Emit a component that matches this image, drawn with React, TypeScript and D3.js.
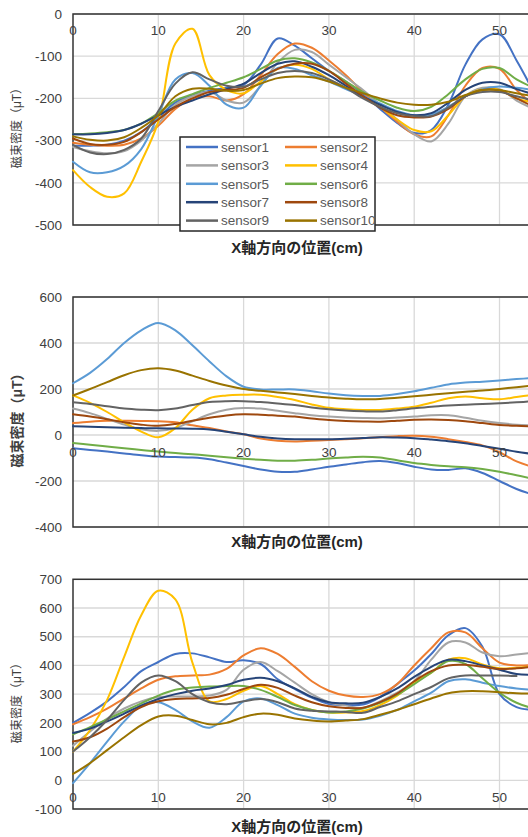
import React from 'react';
import * as d3 from 'd3';

// x positions (cm)
const positions = [0, 2, 4, 6, 8, 10, 12, 14, 16, 18, 20, 22, 24, 26, 28, 30, 32, 34, 36, 38, 40, 42, 44, 46, 48, 50, 52, 54];
const sensorNames = ['sensor1', 'sensor2', 'sensor3', 'sensor4', 'sensor5', 'sensor6', 'sensor7', 'sensor8', 'sensor9', 'sensor10'];
const sensorColors = ['#4472C4', '#ED7D31', '#A5A5A5', '#FFC000', '#5B9BD5', '#70AD47', '#264478', '#9E480E', '#636363', '#997300'];
const xTicks = [0, 10, 20, 30, 40, 50, 60];
const xTickLabels = [0, 10, 20, 30, 40, 50];

// Panel 1
const p1s1 = [-312, -312, -310, -300, -280, -245, -210, -192, -182, -175, -168, -120, -58, -75, -105, -135, -160, -190, -225, -258, -282, -275, -215, -120, -60, -48, -110, -185];
const p1s2 = [-305, -310, -312, -310, -295, -265, -225, -200, -195, -205, -190, -145, -95, -70, -80, -110, -145, -185, -220, -255, -285, -290, -240, -170, -128, -130, -180, -215];
const p1s3 = [-315, -325, -330, -325, -300, -260, -215, -195, -185, -205, -210, -170, -115, -85, -90, -120, -150, -180, -215, -250, -285, -302, -260, -195, -175, -178, -205, -225];
const p1s4 = [-370, -410, -433, -425, -350, -255, -70, -35, -145, -180, -188, -160, -130, -120, -130, -155, -175, -195, -220, -250, -275, -278, -240, -195, -178, -180, -200, -210];
const p1s5 = [-350, -375, -375, -360, -320, -240, -155, -140, -170, -215, -222, -170, -128, -130, -145, -160, -178, -195, -212, -230, -240, -238, -220, -195, -178, -172, -175, -180];
const p1s6 = [-285, -283, -280, -275, -260, -235, -205, -190, -175, -163, -150, -130, -110, -105, -115, -135, -160, -185, -205, -222, -230, -220, -190, -155, -130, -128, -155, -175];
const p1s7 = [-285, -285, -282, -275, -260, -240, -220, -205, -190, -178, -165, -140, -118, -112, -125, -145, -170, -195, -215, -232, -240, -235, -210, -180, -163, -163, -178, -190];
const p1s8 = [-295, -308, -310, -303, -280, -250, -220, -200, -185, -180, -175, -150, -130, -118, -118, -135, -165, -195, -222, -240, -245, -243, -225, -195, -180, -182, -200, -220];
const p1s9 = [-310, -328, -332, -322, -295, -230, -165, -138, -155, -170, -172, -155, -140, -135, -140, -155, -175, -200, -220, -235, -242, -242, -222, -195, -185, -185, -195, -205];
const p1s10 = [-290, -298, -300, -292, -270, -240, -195, -177, -177, -182, -180, -165, -152, -148, -150, -160, -175, -188, -200, -210, -215, -215, -208, -192, -180, -180, -188, -195];

// Panel 2
const p2s1 = [-58, -65, -72, -80, -88, -94, -96, -98, -105, -120, -135, -150, -160, -160, -150, -138, -128, -118, -113, -122, -138, -150, -152, -145, -165, -200, -235, -260];
const p2s2 = [52, 58, 62, 62, 61, 60, 55, 42, 30, 15, 3, -15, -25, -28, -25, -22, -18, -14, -10, -5, -3, -8, -18, -30, -45, -75, -115, -140];
const p2s3 = [115, 95, 70, 45, 25, 18, 30, 60, 90, 110, 117, 115, 105, 95, 86, 80, 76, 74, 73, 76, 80, 86, 86, 75, 62, 52, 45, 42];
const p2s4 = [172, 140, 100, 55, 15, -10, 30, 110, 160, 172, 175, 175, 165, 152, 133, 118, 112, 109, 109, 115, 123, 140, 160, 167, 160, 155, 165, 175];
const p2s5 = [225, 270, 330, 400, 455, 487, 455, 390, 320, 255, 210, 198, 198, 198, 190, 180, 173, 170, 170, 178, 190, 205, 220, 228, 232, 237, 243, 248];
const p2s6 = [-35, -42, -50, -58, -65, -72, -78, -84, -90, -97, -103, -108, -112, -112, -108, -102, -98, -95, -98, -110, -122, -130, -136, -140, -148, -160, -175, -192];
const p2s7 = [38, 36, 34, 32, 30, 29, 28, 27, 24, 14, 3, -8, -15, -18, -18, -18, -16, -13, -10, -11, -14, -20, -27, -36, -48, -60, -73, -83];
const p2s8 = [90, 80, 68, 55, 45, 40, 48, 62, 75, 85, 90, 88, 84, 80, 72, 65, 61, 59, 58, 62, 66, 67, 65, 60, 52, 44, 40, 38];
const p2s9 = [142, 135, 125, 115, 110, 108, 115, 130, 143, 147, 147, 143, 137, 130, 120, 112, 106, 103, 102, 108, 116, 123, 128, 132, 135, 138, 142, 147];
const p2s10 = [172, 200, 230, 260, 282, 290, 280, 258, 235, 215, 200, 192, 185, 178, 170, 163, 158, 155, 157, 162, 168, 175, 182, 188, 193, 200, 208, 215];

// Panel 3
const p3s1 = [200, 235, 275, 325, 380, 412, 440, 442, 428, 412, 418, 405, 352, 318, 288, 266, 262, 264, 290, 335, 382, 440, 505, 530, 465, 300, 255, 245];
const p3s2 = [195, 220, 250, 285, 320, 350, 362, 365, 368, 388, 435, 460, 440, 395, 345, 312, 295, 290, 300, 335, 400, 460, 515, 515, 460, 410, 400, 402];
const p3s3 = [120, 170, 215, 250, 275, 290, 292, 292, 295, 315, 385, 412, 380, 340, 300, 272, 260, 252, 275, 305, 345, 420, 480, 480, 445, 432, 438, 445];
const p3s4 = [100, 175, 280, 430, 575, 660, 630, 410, 275, 283, 312, 328, 300, 265, 245, 236, 236, 241, 262, 295, 340, 375, 420, 425, 403, 390, 392, 398];
const p3s5 = [-10, 60, 135, 205, 260, 272, 245, 205, 183, 220, 275, 285, 262, 232, 218, 212, 210, 212, 225, 245, 275, 305, 345, 352, 340, 328, 320, 315];
const p3s6 = [160, 185, 212, 240, 268, 295, 315, 323, 327, 328, 328, 315, 290, 262, 245, 236, 240, 250, 270, 298, 335, 375, 415, 405, 355, 305, 270, 250];
const p3s7 = [165, 180, 205, 232, 260, 283, 300, 312, 320, 332, 350, 357, 345, 320, 290, 272, 268, 270, 290, 320, 360, 395, 420, 415, 400, 385, 370, 368];
const p3s8 = [135, 150, 180, 220, 255, 275, 283, 285, 287, 298, 318, 333, 322, 295, 272, 258, 252, 253, 272, 302, 345, 380, 400, 402, 395, 388, 390, 396];
const p3s9 = [100, 150, 210, 280, 340, 365, 345, 300, 272, 265, 275, 283, 272, 250, 242, 240, 238, 235, 255, 275, 300, 325, 355, 365, 365, 365, 363, null];
const p3s10 = [22, 60, 105, 150, 192, 222, 225, 210, 195, 200, 220, 232, 228, 215, 208, 205, 208, 213, 228, 245, 265, 285, 303, 310, 310, 307, 303, 302];

const p1Ticks = [-500, -400, -300, -200, -100, 0];
const p2Ticks = [-400, -200, 0, 200, 400, 600];
const p3Ticks = [-100, 0, 100, 200, 300, 400, 500, 600, 700];

const yTitle = '磁束密度（μT）';
const xTitle = 'X軸方向の位置(cm)';

const FONT = "'Liberation Sans', Arial, 'Noto Sans CJK JP', sans-serif";

const xScale = d3.scaleLinear().domain([0, 60]).range([73, 73 + 60 * 8.53]);

type PanelProps = {
  series: (number | null)[][];
  ticks: number[];
  top: number;
  bottom: number;
  xLabelY: number;
  xTitleY: number;
  yTitleY: number;
  yTitleSize: number;
  yTitleBold: boolean;
  legend?: boolean;
};

function Panel(p: PanelProps) {
  const y = d3.scaleLinear().domain([p.ticks[0], p.ticks[p.ticks.length - 1]]).range([p.bottom, p.top]);
  const line = d3
    .line<[number, number | null]>()
    .defined((d) => d[1] !== null)
    .x((d) => xScale(d[0]))
    .y((d) => y(d[1] as number))
    .curve(d3.curveCatmullRom.alpha(0.5));
  const x0 = xScale(0);
  const x1 = xScale(60);
  const legendX = 180;
  const legendY = 137;
  return (
    <g>
      {p.ticks.map((t) => (
        <line key={'h' + t} x1={x0} x2={x1} y1={y(t)} y2={y(t)} stroke="#d9d9d9" strokeWidth={1.3} />
      ))}
      {xTicks.slice(1).map((t) => (
        <line key={'v' + t} x1={xScale(t)} x2={xScale(t)} y1={p.top} y2={p.bottom} stroke="#d9d9d9" strokeWidth={1.3} />
      ))}
      <rect x={x0} y={p.top} width={x1 - x0} height={p.bottom - p.top} fill="none" stroke="#333" strokeWidth={1.5} />
      {p.series.map((s, i) => (
        <path
          key={i}
          d={line(positions.map((x, k) => [x, s[k]] as [number, number | null])) || ''}
          fill="none"
          stroke={sensorColors[i]}
          strokeWidth={2}
          strokeLinejoin="round"
          strokeLinecap="round"
        />
      ))}
      {p.ticks.map((t) => (
        <text key={'yl' + t} x={62} y={y(t)} dy="0.35em" textAnchor="end" fontSize={13.5} fill="#404040" fontFamily={FONT}>
          {t}
        </text>
      ))}
      {xTickLabels.map((t) => (
        <text key={'xl' + t} x={xScale(t)} y={p.xLabelY} dy="0.35em" textAnchor="middle" fontSize={13.5} fill="#404040" fontFamily={FONT}>
          {t}
        </text>
      ))}
      <text x={297} y={p.xTitleY} dy="0.35em" textAnchor="middle" fontSize={15} fontWeight="bold" fill="#262626" fontFamily={FONT}>
        {xTitle}
      </text>
      <text
        transform={`translate(17,${p.yTitleY}) rotate(-90)`}
        dy="0.35em"
        textAnchor="middle"
        fontSize={p.yTitleSize}
        fontWeight={p.yTitleBold ? 'bold' : 'normal'}
        fill="#404040"
        fontFamily={FONT}
      >
        {yTitle}
      </text>
      {p.legend && (
        <g>
          <rect x={legendX} y={legendY} width={195} height={94} fill="#fff" stroke="#262626" strokeWidth={1.5} />
          {sensorNames.map((name, i) => {
            const col = i % 2;
            const row = Math.floor(i / 2);
            const lx = col === 0 ? 186 : 285;
            const ly = 147 + row * 18.4;
            return (
              <g key={name}>
                <line x1={lx} x2={lx + 32} y1={ly} y2={ly} stroke={sensorColors[i]} strokeWidth={2.5} />
                <text x={lx + 35} y={ly} dy="0.35em" fontSize={13.5} fill="#595959" fontFamily={FONT}>
                  {name}
                </text>
              </g>
            );
          })}
        </g>
      )}
    </g>
  );
}

export default function App() {
  return (
    <svg width={528} height={837} style={{ position: 'absolute', left: 0, top: 0, background: '#fff' }}>
      <rect x={0} y={0} width={528} height={837} fill="#fff" />
      <Panel
        series={[p1s1, p1s2, p1s3, p1s4, p1s5, p1s6, p1s7, p1s8, p1s9, p1s10]}
        ticks={p1Ticks}
        top={14}
        bottom={225}
        xLabelY={30}
        xTitleY={248}
        yTitleY={125}
        yTitleSize={12}
        yTitleBold={false}
        legend
      />
      <Panel
        series={[p2s1, p2s2, p2s3, p2s4, p2s5, p2s6, p2s7, p2s8, p2s9, p2s10]}
        ticks={p2Ticks}
        top={297}
        bottom={527}
        xLabelY={452}
        xTitleY={542}
        yTitleY={417}
        yTitleSize={14}
        yTitleBold={true}
      />
      <Panel
        series={[p3s1, p3s2, p3s3, p3s4, p3s5, p3s6, p3s7, p3s8, p3s9, p3s10]}
        ticks={p3Ticks}
        top={579.3}
        bottom={809}
        xLabelY={797}
        xTitleY={827}
        yTitleY={700}
        yTitleSize={12}
        yTitleBold={false}
      />
    </svg>
  );
}
